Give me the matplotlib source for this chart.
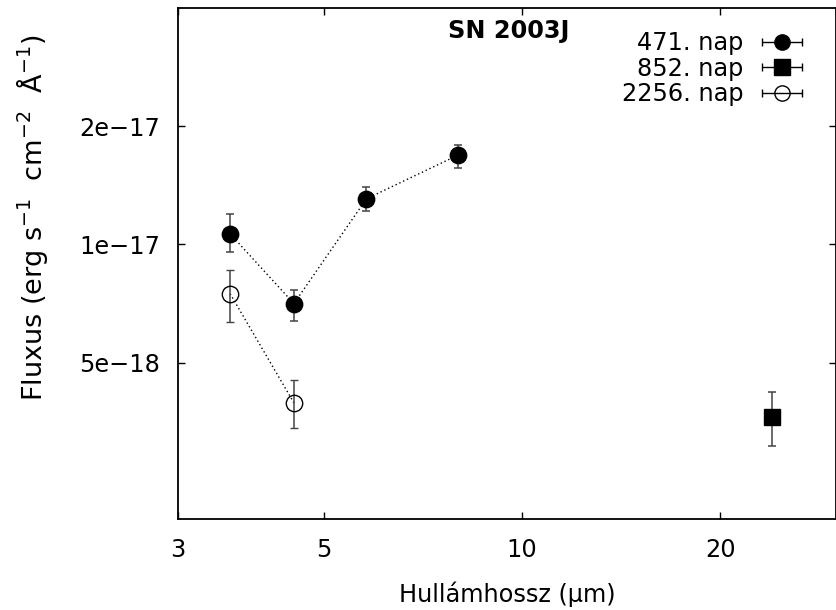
import numpy as np
import matplotlib
matplotlib.use("Agg")
import matplotlib.pyplot as plt
from matplotlib.ticker import FixedLocator, FixedFormatter, NullLocator
from matplotlib.legend_handler import HandlerErrorbar

plt.rcParams['font.family'] = ['DejaVu Sans']
plt.rcParams['mathtext.fontset'] = 'dejavusans'

# Spitzer wavelengths (micron) and fluxes (erg s^-1 cm^-2 A^-1)
wl_471 = [3.6, 4.5, 5.8, 8.0]
fx_471 = [1.064e-17, 7.07e-18, 1.307e-17, 1.69e-17]
lo_471 = [0.957e-17, 6.40e-18, 1.218e-17, 1.566e-17]
hi_471 = [1.197e-17, 7.66e-18, 1.402e-17, 1.792e-17]

wl_852 = [24.0]
fx_852 = [3.64e-18]
lo_852 = [3.06e-18]
hi_852 = [4.21e-18]

wl_2256 = [3.6, 4.5]
fx_2256 = [7.49e-18, 3.95e-18]
lo_2256 = [6.36e-18, 3.40e-18]
hi_2256 = [8.62e-18, 4.52e-18]

labels = ["471. nap", "852. nap", "2256. nap"]
xticks = [3, 5, 10, 20]
yticks = [5e-18, 1e-17, 2e-17]
ytick_labels = ["5e\u221218", "1e\u221217", "2e\u221217"]

FS = 17.3

fig = plt.figure(figsize=(8.37, 6.10), dpi=100)
ax = fig.add_axes([0.2127, 0.1492, 0.7863, 0.8377])
ax.set_xscale('log')
ax.set_yscale('log')
ax.set_xlim(3, 30)
ax.set_ylim(2e-18, 4e-17)


def yerr(f, lo, hi):
    f = np.array(f)
    return [f - np.array(lo), np.array(hi) - f]


ekw = dict(ecolor='#444444', elinewidth=1.1, capsize=2.7, capthick=1.1)
ax.plot(wl_471, fx_471, color='black', lw=1.0, ls=(0, (1, 2)))
ax.plot(wl_2256, fx_2256, color='black', lw=1.0, ls=(0, (1, 2)))
ax.errorbar(wl_471, fx_471, yerr=yerr(fx_471, lo_471, hi_471), fmt='o',
            color='black', ms=11.8, **ekw)
ax.errorbar(wl_852, fx_852, yerr=yerr(fx_852, lo_852, hi_852), fmt='s',
            color='black', ms=11.3, **ekw)
ax.errorbar(wl_2256, fx_2256, yerr=yerr(fx_2256, lo_2256, hi_2256), fmt='o',
            mfc='none', mec='black', mew=1.0, color='black', ms=11.8, **ekw)

# legend proxies with horizontal bars (gnuplot style)
lkw = dict(elinewidth=1.0, capsize=2.7, capthick=1.0, ecolor='black')
h1 = ax.errorbar([np.nan], [np.nan], xerr=[1], fmt='o', color='black', ms=11, **lkw)
h2 = ax.errorbar([np.nan], [np.nan], xerr=[1], fmt='s', color='black', ms=11, **lkw)
h3 = ax.errorbar([np.nan], [np.nan], xerr=[1], fmt='o', mfc='none', mec='black',
                 mew=1.0, color='black', ms=11, **lkw)
ax.legend([h1, h2, h3], labels, loc='upper right', frameon=False,
          markerfirst=False, fontsize=FS, handlelength=1.67, handletextpad=0.75,
          labelspacing=0.07, bbox_to_anchor=(0.948, 0.955), borderaxespad=0,
          borderpad=0, handler_map={type(h1): HandlerErrorbar(xerr_size=0.83)})

ax.xaxis.set_major_locator(FixedLocator(xticks))
ax.xaxis.set_major_formatter(FixedFormatter([str(t) for t in xticks]))
ax.xaxis.set_minor_locator(NullLocator())
ax.yaxis.set_major_locator(FixedLocator(yticks))
ax.yaxis.set_major_formatter(FixedFormatter(ytick_labels))
ax.yaxis.set_minor_locator(NullLocator())
ax.tick_params(which='both', direction='in', length=5, width=1.0,
               top=True, right=True, labelsize=FS)
ax.tick_params(axis='x', pad=13.7)
ax.tick_params(axis='y', pad=13)
for s in ax.spines.values():
    s.set_linewidth(1.3)

ax.text(0.502, 0.941, "SN 2003J", transform=ax.transAxes, ha='center', va='baseline',
        fontsize=FS, fontweight='bold')
ax.set_xlabel("Hullámhossz (μm)", fontsize=FS)
ax.xaxis.set_label_coords(0.5, -0.122)
ax.set_ylabel("Fluxus (erg s$^{\u22121}$  cm$^{\u22122}$  Å$^{\u22121}$)", fontsize=19.5)
ax.yaxis.set_label_coords(-0.194, 0.589)

fig.savefig("out.png", dpi=100)
